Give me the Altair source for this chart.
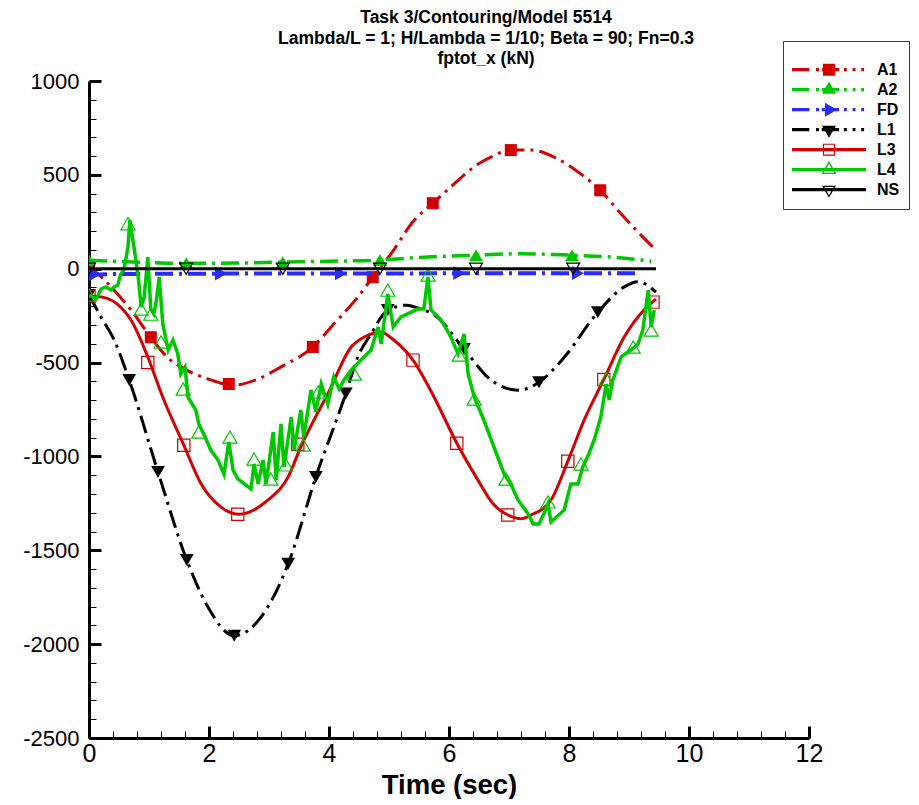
import altair as alt
import pandas as pd

# ---------------- values ----------------
series_names = ["A1", "A2", "FD", "L1", "L3", "L4", "NS"]

# A1 (red dash-dot, filled squares)
a1_t = [0, 0.15, 0.42, 0.7, 1.03, 1.3, 1.53, 1.98, 2.4, 2.82, 3.2, 3.73, 4.08, 4.48, 4.73,
        5.03, 5.42, 5.73, 6.08, 6.48, 6.7, 7.03, 7.37, 7.75, 8.2, 8.52, 8.87, 9.2, 9.4]
a1_v = [10, -28, -115, -220, -365, -470, -523, -587, -620, -587, -523, -417, -295, -151, -45,
        78, 258, 349, 450, 557, 595, 632, 632, 595, 504, 418, 291, 179, 115]
a1_mt = [0, 1.03, 2.33, 3.73, 4.73, 5.73, 7.03, 8.52]
a1_mv = [10, -365, -614, -417, -45, 349, 632, 418]

# A2 (green dash-dot, filled triangles up)
a2_t = [0, 0.42, 1.0, 1.53, 2.4, 3.2, 4.0, 4.75, 5.4, 5.98, 6.45, 7.2, 8.03, 8.75, 9.37]
a2_v = [45, 40, 33, 29, 30, 35, 40, 45, 58, 67, 72, 80, 72, 61, 40]
a2_mt = [0, 1.62, 3.23, 4.85, 6.45, 8.05]
a2_mv = [45, 29, 35, 46, 72, 72]

# FD (blue dash-dot, filled triangles right)
fd_t = [0, 0.5, 1.5, 2.5, 3.5, 4.5, 5.5, 6.5, 7.5, 8.5, 9.1]
fd_v = [-32, -28, -27, -26, -26, -25, -25, -24, -24, -24, -24]
fd_mt = [0.1, 2.2, 4.2, 6.17, 8.15]
fd_mv = [-30, -26, -25, -24, -24]

# L1 (black dash-dot, filled triangles down)
l1_t = [0, 0.2, 0.42, 0.67, 1.15, 1.63, 1.98, 2.42, 2.87, 3.32, 3.78, 4.28, 4.48, 4.7, 4.98,
        5.3, 5.53, 5.75, 6.25, 6.7, 7.15, 7.5, 7.92, 8.48, 8.92, 9.15, 9.45]
l1_v = [-140, -257, -380, -593, -1083, -1552, -1801, -1955, -1855, -1572, -1110, -665, -470, -348, -220,
        -194, -215, -245, -428, -593, -647, -605, -472, -232, -97, -70, -124]
l1_mt = [0, 0.67, 1.15, 1.63, 2.42, 3.32, 3.78, 4.28, 4.98, 6.25, 7.5, 8.48]
l1_mv = [-140, -593, -1083, -1552, -1955, -1572, -1110, -665, -220, -428, -605, -232]

# L3 (red solid, open squares)
l3_t = [0, 0.2, 0.53, 0.7, 0.98, 1.23, 1.58, 1.87, 2.2, 2.5, 2.98, 3.32, 3.53, 3.75, 3.98,
        4.37, 4.58, 4.87, 5.08, 5.4, 5.75, 6.13, 6.48, 6.75, 6.98, 7.2, 7.37, 7.7, 7.98, 8.25,
        8.58, 8.92, 9.25, 9.45]
l3_v = [-145, -150, -205, -273, -470, -685, -940, -1147, -1270, -1308, -1233, -1109, -949, -806, -667,
        -417, -365, -338, -380, -487, -683, -930, -1125, -1258, -1312, -1332, -1312, -1232, -1026, -808,
        -590, -364, -220, -162]
l3_mt = [0, 0.98, 1.58, 2.48, 3.48, 5.4, 6.13, 6.98, 7.98, 8.58, 9.4]
l3_mv = [-150, -500, -940, -1308, -935, -487, -930, -1312, -1026, -590, -178]

# L4 (green solid, open triangles up)
l4_t = [0.00, 0.12, 0.20, 0.28, 0.37, 0.42, 0.48, 0.53, 0.58, 0.65, 0.68, 0.75, 0.82, 0.87, 0.92,
        0.98, 1.03, 1.08, 1.12, 1.17, 1.23, 1.32, 1.40, 1.48, 1.53, 1.60, 1.65, 1.78, 1.83, 1.92,
        2.03, 2.15, 2.25, 2.33, 2.40, 2.48, 2.70, 2.75, 2.82, 2.90, 2.95, 3.07, 3.12, 3.20, 3.25,
        3.37, 3.42, 3.53, 3.58, 3.70, 3.78, 3.87, 3.98, 4.08, 4.17, 4.25, 4.37, 4.53, 4.70, 4.82,
        4.87, 4.98, 5.07, 5.20, 5.48, 5.58, 5.65, 5.70, 5.87, 6.03, 6.15, 6.25, 6.32, 6.42, 6.58,
        6.75, 6.92, 7.03, 7.15, 7.32, 7.40, 7.50, 7.58, 7.65, 7.70, 7.92, 8.03, 8.15, 8.23, 8.33,
        8.42, 8.53, 8.62, 8.67, 8.73, 8.87, 9.03, 9.15, 9.23, 9.32, 9.37, 9.42]
l4_v = [-140, -161, -108, -97, -113, -97, -87, -28, -7, 115, 259, 115, -44, -204, -151,
        62, -215, -241, -177, -44, -294, -433, -380, -454, -561, -524, -684, -753, -828, -886,
        -966, -1019, -1094, -923, -1072, -1120, -1174, -1040, -1147, -1019, -1147, -870, -1126, -827, -1056,
        -790, -966, -753, -896, -646, -763, -614, -721, -577, -641, -593, -540, -487, -433, -311,
        -401, -135, -311, -257, -215, -215, -44, -220, -273, -363, -454, -348, -561, -683, -806,
        -950, -1094, -1147, -1232, -1306, -1360, -1360, -1306, -1253, -1349, -1285, -1147, -1147, -1056, -987,
        -912, -790, -614, -699, -593, -470, -433, -401, -327, -114, -311, -220]
l4_mt = [0, 0.65, 0.87, 1.03, 1.2, 1.57, 1.83, 2.35, 2.75, 3.03, 3.28, 3.57, 3.82, 4.42, 4.98,
         5.65, 6.17, 6.42, 6.95, 7.65, 8.2, 8.62, 9.07, 9.37]
l4_mv = [-140, 240, -215, -242, -390, -641, -870, -897, -1014, -1120, -1045, -939, -657, -561, -114,
         -33, -460, -694, -1120, -1242, -1040, -587, -417, -327]

# NS (black solid, open triangles down)
ns_t = [0, 1.62, 3.23, 4.85, 6.45, 8.07, 9.45]
ns_v = [0, 0, 0, 0, 0, 0, 0]
ns_mt = [0, 1.62, 3.23, 4.85, 6.45, 8.07]
ns_mv = [0, 0, 0, 0, 0, 0]

# axis tick values (majors carry labels)
x_ticks = [0, 0.4, 0.8, 1.2, 1.6, 2, 2.4, 2.8, 3.2, 3.6, 4, 4.4, 4.8, 5.2, 5.6, 6, 6.4, 6.8,
           7.2, 7.6, 8, 8.4, 8.8, 9.2, 9.6, 10, 10.4, 10.8, 11.2, 11.6, 12]
y_ticks = [-2500, -2400, -2300, -2200, -2100, -2000, -1900, -1800, -1700, -1600, -1500,
           -1400, -1300, -1200, -1100, -1000, -900, -800, -700, -600, -500, -400, -300,
           -200, -100, 0, 100, 200, 300, 400, 500, 600, 700, 800, 900, 1000]

# ---------------- styles ----------------
RED = "#d40000"
GREEN = "#00c800"
BLUE = "#2b2bff"
BLACK = "#000000"
DASHDOT = [18, 6, 3, 6]
ARIAL = "Liberation Sans, Arial, Helvetica, sans-serif"

x_scale = alt.Scale(domain=[0, 12], nice=False, zero=False)
y_scale = alt.Scale(domain=[-2500, 1000], nice=False, zero=False)

x_axis = alt.Axis(
    values=x_ticks, title="Time (sec)", grid=False,
    domainColor=BLACK, domainWidth=3, tickColor=BLACK,
    tickSize={"expr": "datum.value % 2 === 0 ? -12 : -7"},
    tickWidth={"condition": {"test": "datum.value % 2 === 0", "value": 3}, "value": 1},
    labelExpr="datum.value % 2 === 0 ? toString(datum.value) : ''",
    labelFont=ARIAL, labelFontSize=25, labelColor=BLACK, labelPadding=15,
    labelFlush=False, labelOverlap=False,
    titleFont=ARIAL, titleFontSize=27.5, titleFontWeight="bold", titleColor=BLACK, titlePadding=0,
)
y_axis = alt.Axis(
    values=y_ticks, title=None, grid=False,
    domainColor=BLACK, domainWidth=3, tickColor=BLACK,
    tickSize={"expr": "datum.value % 500 === 0 ? -12 : -7"},
    tickWidth={"condition": {"test": "datum.value % 500 === 0", "value": 3}, "value": 1},
    labelExpr="datum.value % 500 === 0 ? toString(datum.value) : ''",
    labelFont=ARIAL, labelFontSize=22, labelColor=BLACK, labelPadding=22,
    labelFlush=False, labelOverlap=False,
)

X = alt.X("t:Q", scale=x_scale, axis=x_axis)
Y = alt.Y("v:Q", scale=y_scale, axis=y_axis)


def table(t, v):
    return pd.DataFrame({"t": t, "v": v})


specs = [
    # name, line t, line v, marker t, marker v, color, dash, width, interp, shape, filled, size
    ("A1", a1_t, a1_v, a1_mt, a1_mv, RED, DASHDOT, 3, "monotone", "square", True, 144),
    ("A2", a2_t, a2_v, a2_mt, a2_mv, GREEN, DASHDOT, 3.5, "monotone", "triangle-up", True, 190),
    ("FD", fd_t, fd_v, fd_mt, fd_mv, BLUE, DASHDOT, 4, "monotone", "triangle-right", True, 190),
    ("L1", l1_t, l1_v, l1_mt, l1_mv, BLACK, DASHDOT, 3, "monotone", "triangle-down", True, 190),
    ("L3", l3_t, l3_v, l3_mt, l3_mv, RED, None, 3, "monotone", "square", False, 150),
    ("L4", l4_t, l4_v, l4_mt, l4_mv, GREEN, None, 3.5, "linear", "triangle-up", False, 200),
    ("NS", ns_t, ns_v, ns_mt, ns_mv, BLACK, None, 3, "linear", "triangle-down", False, 170),
]

layers = []
for name, lt, lv, mt, mv, color, dash, width, interp, shape, filled, msize in specs:
    lk = dict(color=color, strokeWidth=width, interpolate=interp, clip=True)
    if dash:
        lk["strokeDash"] = dash
    layers.append(alt.Chart(table(lt, lv)).mark_line(**lk).encode(x=X, y=Y))
    if filled:
        pm = alt.Chart(table(mt, mv)).mark_point(shape=shape, filled=True, color=color,
                                                 size=msize, opacity=1, strokeWidth=0, clip=True)
    else:
        pm = alt.Chart(table(mt, mv)).mark_point(shape=shape, filled=False, color=color,
                                                 size=msize, opacity=1, strokeWidth=1.2, clip=True)
    layers.append(pm.encode(x=X, y=Y))

# ---------------- legend symbols: line sample + marker as one filled path ----------------
U = 37.0  # half width of the legend sample in px


def _p(x, y):
    return f"{x / U:.4f},{y / U:.4f}"


def poly(pts):
    return "M" + "L".join(_p(x, y) for x, y in pts) + "Z"


def seg(x0, x1, hw=1.6):
    return poly([(x0, -hw), (x1, -hw), (x1, hw), (x0, hw)])


def tri(kind, w):
    h = 0.866 * w
    if kind == "up":
        return [(0, -2 * h / 3), (w / 2, h / 3), (-w / 2, h / 3)]
    if kind == "down":
        return [(-w / 2, -h / 3), (w / 2, -h / 3), (0, 2 * h / 3)]
    return [(-h / 3, -w / 2), (2 * h / 3, 0), (-h / 3, w / 2)]


def ring(pts, k):
    inner = [(x * k, y * k) for x, y in pts][::-1]
    return poly(pts) + poly(inner)


DD_SEGS = [(-37, -19.7), (-13, -10), (-7.2, 10.1), (14.9, 17.8), (23.6, 26.5), (32.2, 35.1)]
dashdot = "".join(seg(a, b) for a, b in DD_SEGS)
solid = seg(-37, 37)
sq = [(-6, -6), (6, -6), (6, 6), (-6, 6)]

legend_paths = [
    dashdot + poly(sq),
    dashdot + poly(tri("up", 14)),
    dashdot + poly(tri("right", 14)),
    dashdot + poly(tri("down", 14)),
    solid + ring(sq, 0.82),
    solid + ring(tri("up", 15), 0.68),
    solid + ring(tri("down", 14), 0.68),
]
legend_colors = [RED, GREEN, BLUE, BLACK, RED, GREEN, BLACK]

leg = alt.Legend(
    title=" ", titleFontSize=9, titlePadding=1,
    orient="none", legendX=694, legendY=-40, padding=9, clipHeight=19.4,
    symbolSize=5476, symbolStrokeWidth=0, symbolOpacity=1, rowPadding=0,
    labelFont=ARIAL, labelFontSize=16, labelFontWeight="bold", labelColor=BLACK, labelOffset=11,
    strokeColor="#3a3a3a", fillColor="white",
)
leg_df = pd.DataFrame({
    "series": series_names,
    "t": [a1_mt[0], a2_mt[0], fd_mt[0], l1_mt[0], l3_mt[0], l4_mt[0], ns_mt[0]],
    "v": [a1_mv[0], a2_mv[0], fd_mv[0], l1_mv[0], l3_mv[0], l4_mv[0], ns_mv[0]],
})
leg_layer = alt.Chart(leg_df).mark_point(filled=True, opacity=0, strokeWidth=0).encode(
    x=X, y=Y,
    color=alt.Color("series:N", scale=alt.Scale(domain=series_names, range=legend_colors), legend=leg),
    shape=alt.Shape("series:N", scale=alt.Scale(domain=series_names, range=legend_paths), legend=leg),
)

chart = alt.layer(*layers, leg_layer).properties(
    width=720, height=657,
    padding={"left": 14, "top": 1, "right": 0, "bottom": 0},
    title=alt.TitleParams(
        text=["Task 3/Contouring/Model 5514",
              "Lambda/L = 1; H/Lambda = 1/10; Beta = 90; Fn=0.3",
              "fptot_x (kN)"],
        anchor="middle", frame="group", font=ARIAL, fontSize=17.5, fontWeight="bold",
        lineHeight=20.5, offset=-27, dx=37, color=BLACK,
    ),
).configure_view(strokeWidth=0)

chart.save("out.html", embed_options={"renderer": "svg", "actions": False})
